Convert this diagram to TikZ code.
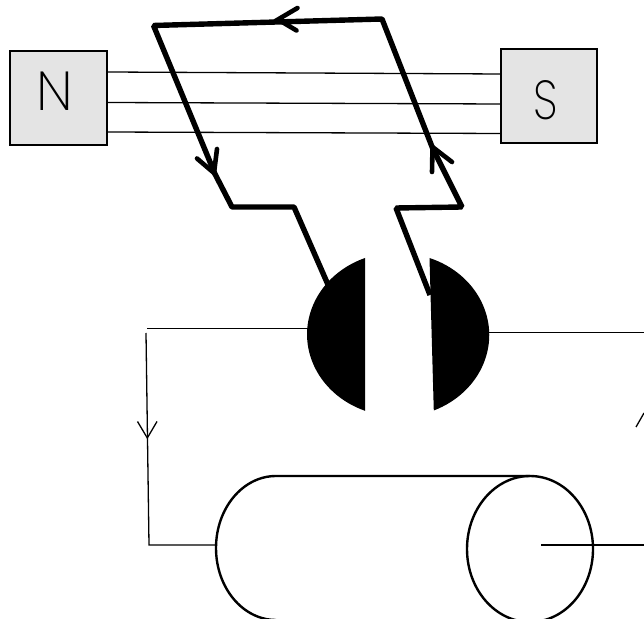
\documentclass[tikz,border=0pt]{standalone}
\usepackage{fontspec}
\newfontfamily\polefont{Poppins ExtraLight}
\tikzset{
  x=1pt,y=1pt,
  magnet/.style={draw=black,line width=2pt,fill=black!10.5,inner sep=0pt},
  coil/.style={line width=5.4pt,line join=bevel,line cap=butt},
  barb/.style={line width=4.6pt,line cap=round,line join=miter},
  wire/.style={line width=1.3pt},
  body/.style={line width=2.4pt},
  pole/.style={font=\polefont\fontsize{55}{55}\selectfont,inner sep=0pt}
}
\begin{document}
\begin{tikzpicture}
\useasboundingbox (0,0) rectangle (644,618);
\clip (0,0) rectangle (644,618);
% magnets
\path[magnet] (10,473) rectangle (107,567);
\path[magnet] (500.5,475) rectangle (597,569);
\node[pole] (N) at (54.5,526.5) {N};
\node[pole,xscale=0.8] (S) at (546,517.5) {S};
% field lines
\coordinate (n1) at (107,546); \coordinate (s1) at (500.5,544);
\coordinate (n2) at (107,515.5); \coordinate (s2) at (500.5,514);
\coordinate (n3) at (107,486); \coordinate (s3) at (500.5,484.5);
\draw[wire] (n1)--(s1) (n2)--(s2) (n3)--(s3);
% coil
\coordinate (c1) at (153.5,592.5);
\coordinate (c2) at (382,599);
\coordinate (c3) at (432.5,470);
\coordinate (c4) at (462,411);
\coordinate (c5) at (396,410);
\coordinate (c6) at (430,323);
\coordinate (c7) at (215,444);
\coordinate (c8) at (232,411);
\coordinate (c9) at (294,411);
\coordinate (c10) at (329,331);
\draw[coil] (c10)--(c9)--(c8)--(c7)--(c1)--(c2)--(c3)--(c4)--(c5)--(c6);
% coil arrowheads
\coordinate (a1) at (278,598.5);
\draw[barb] (297.5,610)--(a1)--(296.5,587.5);
\coordinate (a2) at (214,445);
\draw[barb] (197,459.5)--(a2)--(217,469);
\coordinate (a3) at (432.5,471);
\draw[barb] (432,446)--(a3)--(452,456);
% commutator
\fill (365,360) arc[start angle=111.3,end angle=248.7,x radius=91,y radius=82] -- cycle;
\fill (429.5,360) arc[start angle=69.9,end angle=-67,x radius=91,y radius=82] -- cycle;
% wires
\coordinate (w1) at (147,289.5);
\coordinate (w2) at (308,289.5);
\coordinate (w3) at (146,285);
\coordinate (w4) at (149,73);
\coordinate (w5) at (216,73);
\coordinate (w6) at (489,285.5);
\coordinate (w7) at (644,285.5);
\coordinate (w8) at (541,73);
\coordinate (w9) at (644,73);
\coordinate (w10) at (636,191);
\coordinate (w11) at (644,205);
\draw[wire] (w1)--(w2);
\draw[wire] (w3)--(w4)--(w5);
\draw[wire] (w6)--(w7);
\draw[wire] (w8)--(w9);
\draw[wire] (w10)--(w11);
\coordinate (a4) at (147.3,180);
\draw[wire,line join=miter] (137.5,196.5)--(a4)--(157,196.5);
% machine body
\draw[body] (530,142) -- (276,142) arc[start angle=90,end angle=270,x radius=60,y radius=72];
\draw[body] (530,69) ellipse[x radius=63,y radius=73];
\end{tikzpicture}
\end{document}
